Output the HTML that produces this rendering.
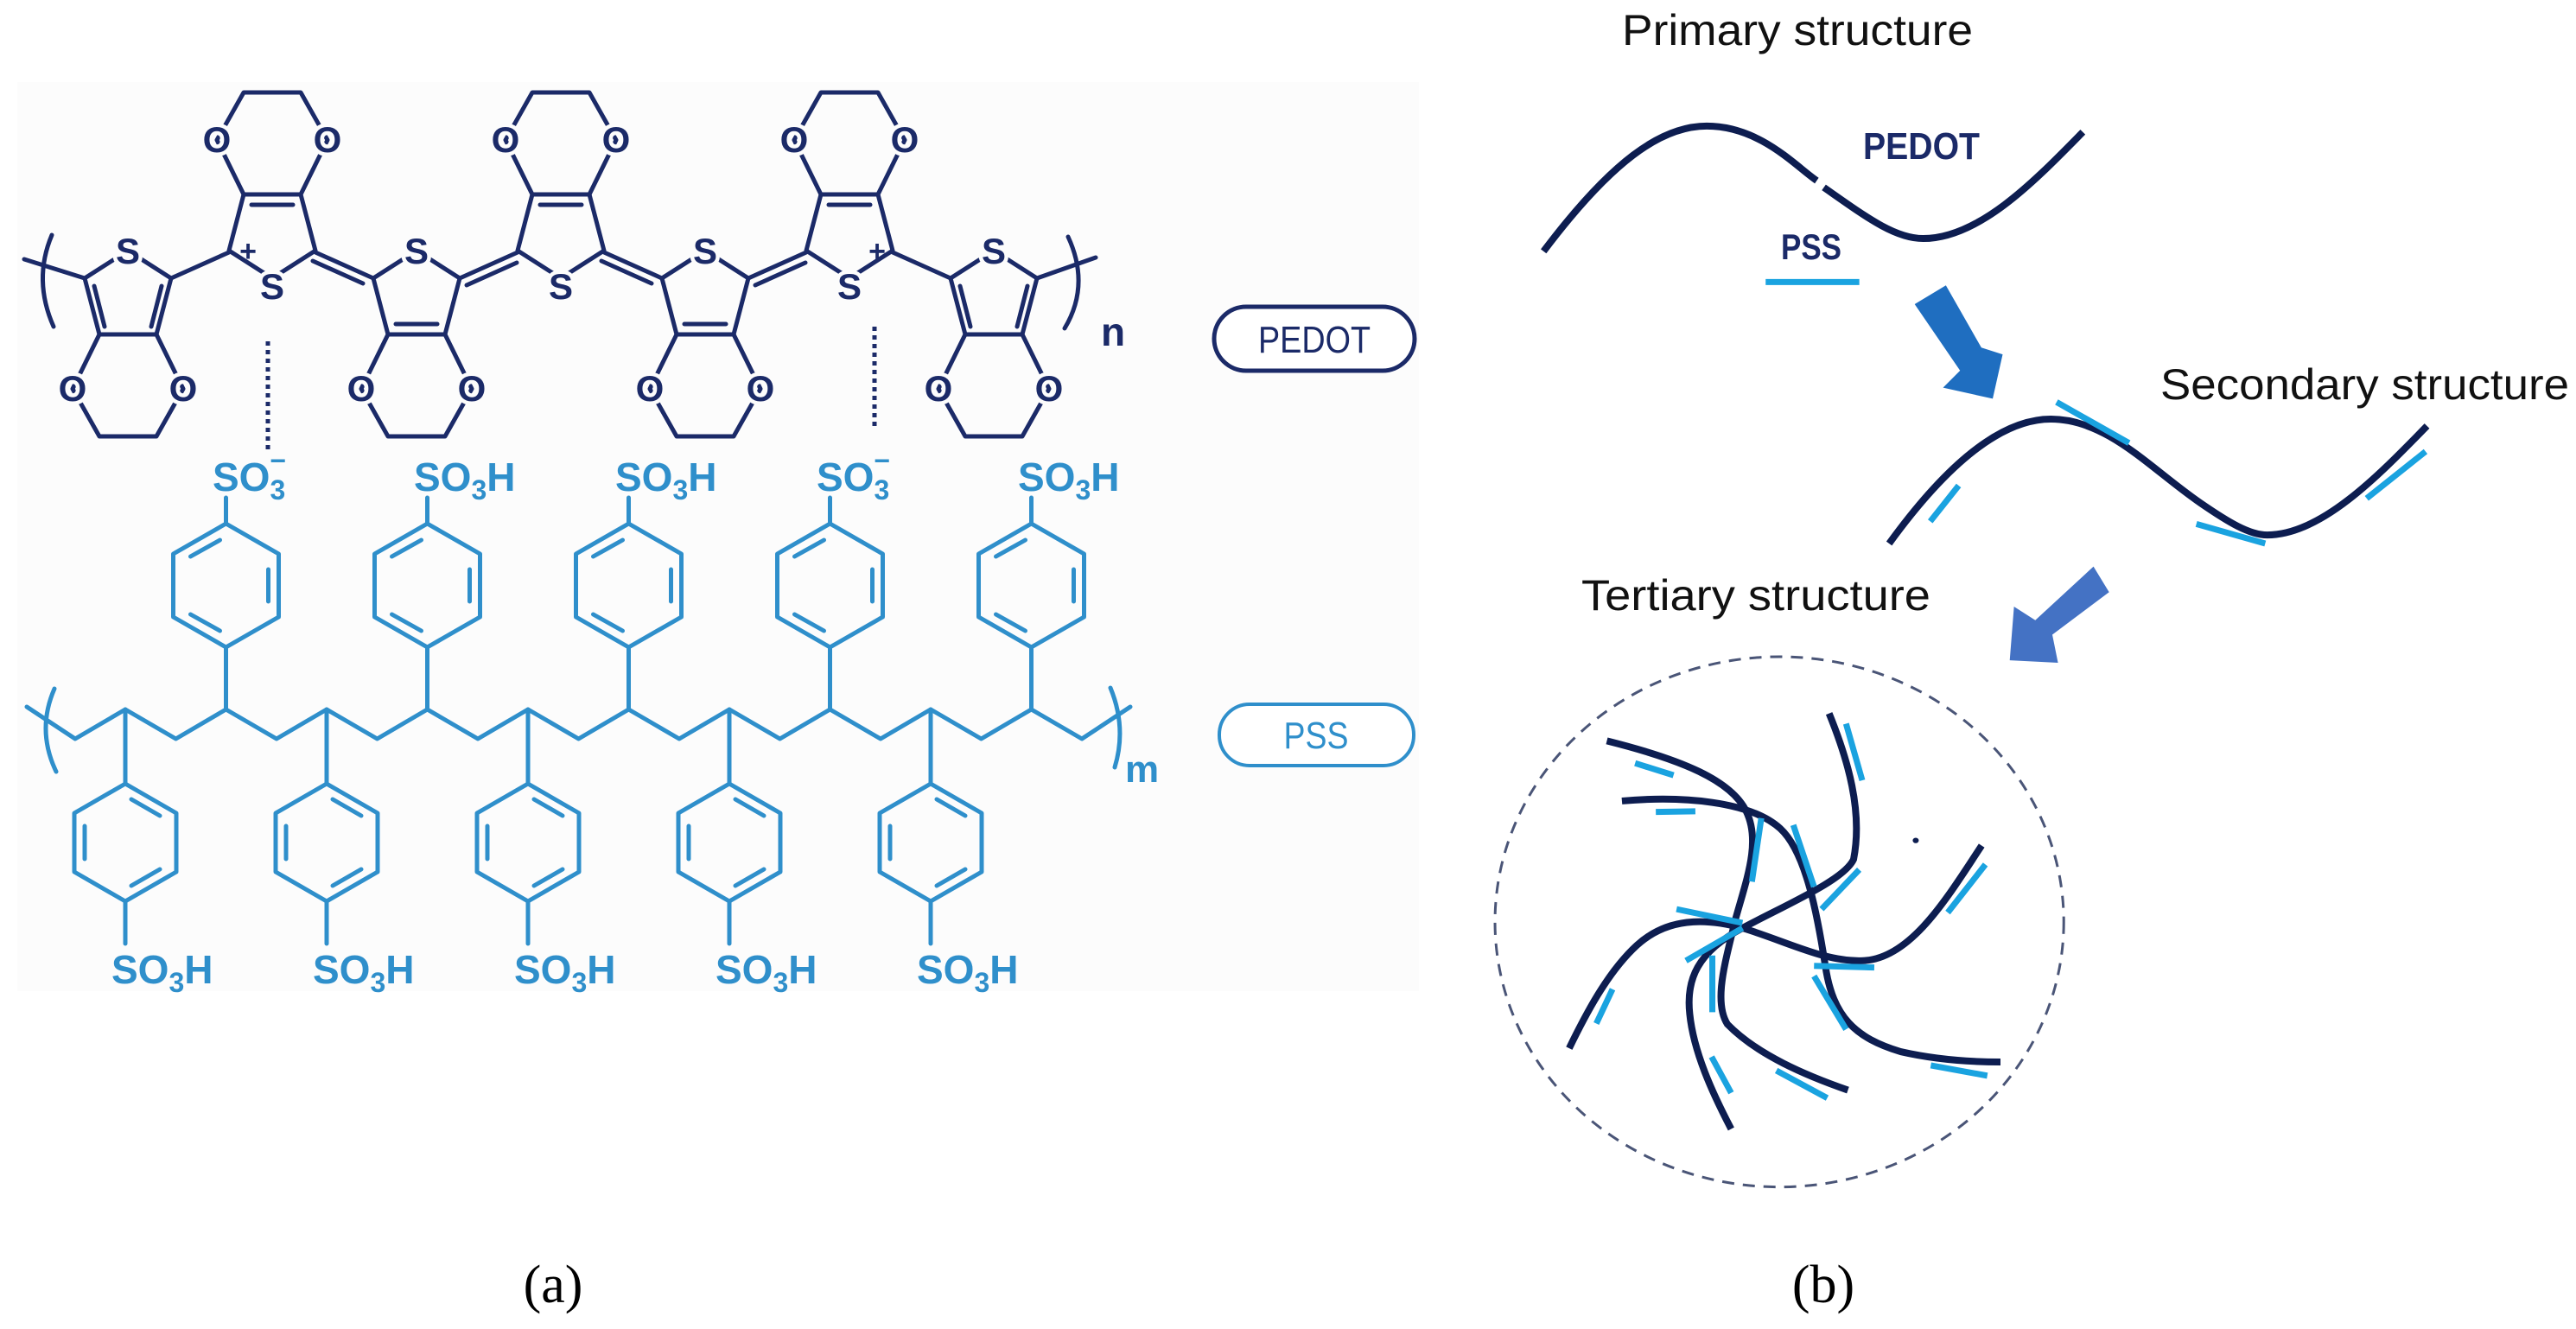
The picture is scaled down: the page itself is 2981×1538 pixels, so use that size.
<!DOCTYPE html>
<html><head><meta charset="utf-8"><style>
html,body{margin:0;padding:0;background:#fff}
svg{display:block}
</style></head><body>
<svg width="2981" height="1538" viewBox="0 0 2981 1538" xmlns="http://www.w3.org/2000/svg">
<rect width="2981" height="1538" fill="#fff"/>
<rect x="20" y="95" width="1622" height="1052" fill="#fcfcfc"/>
<defs>
 <g id="upring" fill="none" stroke="#1b2a68" stroke-width="5" stroke-linejoin="round" stroke-linecap="round">
  <path d="M0,290 L-50,322 L-33,387 L33,387 L50,322 Z"/>
  <path d="M-33,387 L-64,450 L-33,505 L33,505 L64,450 L33,387"/>
 </g>
 <g id="arom" stroke="#1b2a68" stroke-width="5" stroke-linecap="round">
  <path d="M-39,331 L-27,378 M39,331 L27,378"/>
 </g>
 <g id="quin" stroke="#1b2a68" stroke-width="5" stroke-linecap="round">
  <path d="M-24,375 L24,375"/>
 </g>
 <g id="bzb" fill="none" stroke="#2f8fcb" stroke-width="5" stroke-linejoin="round" stroke-linecap="round">
  <path d="M0,821 L0,907 M0,1043 L0,1092"/>
  <path d="M0,907 L59,941 L59,1009 L0,1043 L-59,1009 L-59,941 Z"/>
  <path d="M7,925 L40,944 M-47,956 L-47,994 M40,1006 L7,1025"/>
 </g>
 <g id="bzt" fill="none" stroke="#2f8fcb" stroke-width="5" stroke-linejoin="round" stroke-linecap="round">
  <path d="M0,821 L0,749 M0,606 L0,576"/>
  <path d="M0,606 L61,641 L61,714 L0,749 L-61,714 L-61,641 Z"/>
  <path d="M-41,711 L-7,730 M49,659 L49,696 M-41,644 L-7,625"/>
 </g>
</defs>

<!-- PEDOT rings -->
<g>
 <use href="#upring" x="148"/><use href="#arom" x="148"/>
 <g transform="translate(315,612) scale(1,-1)"><use href="#upring"/><use href="#quin"/></g>
 <use href="#upring" x="482"/><use href="#quin" x="482"/>
 <g transform="translate(649,612) scale(1,-1)"><use href="#upring"/><use href="#quin"/></g>
 <use href="#upring" x="816"/><use href="#quin" x="816"/>
 <g transform="translate(983,612) scale(1,-1)"><use href="#upring"/><use href="#quin"/></g>
 <use href="#upring" x="1150"/><use href="#arom" x="1150"/>
</g>
<g fill="none" stroke="#1b2a68" stroke-width="5" stroke-linecap="round">
 <path d="M28,300 L98,322 M198,322 L265,292"/>
 <path d="M365,292 L432,322 M362,302 L420,328"/>
 <path d="M532,322 L599,292 M540,330 L598,304"/>
 <path d="M699,292 L766,322 M696,302 L754,328"/>
 <path d="M866,322 L933,292 M874,330 L932,304"/>
 <path d="M1033,292 L1100,322 M1200,322 L1268,298"/>
 <path d="M60,272 Q38,324 62,378"/>
 <path d="M1236,274 Q1262,330 1232,380"/>
 <path d="M310,395 L310,522 M1012,378 L1012,498" stroke-dasharray="5 5" stroke-linecap="butt"/>
</g>
<g font-family="Liberation Sans, sans-serif" font-weight="bold" font-size="42" fill="#1b2a68" text-anchor="middle" stroke="#fcfcfc" stroke-width="9" paint-order="stroke">
 <text x="148" y="305">S</text><text x="315" y="346">S</text><text x="482" y="305">S</text>
 <text x="649" y="346">S</text><text x="816" y="305">S</text><text x="983" y="346">S</text><text x="1150" y="305">S</text>
 <text x="84" y="464">O</text><text x="212" y="464">O</text>
 <text x="251" y="176">O</text><text x="379" y="176">O</text>
 <text x="418" y="464">O</text><text x="546" y="464">O</text>
 <text x="585" y="176">O</text><text x="713" y="176">O</text>
 <text x="752" y="464">O</text><text x="880" y="464">O</text>
 <text x="919" y="176">O</text><text x="1047" y="176">O</text>
 <text x="1086" y="464">O</text><text x="1214" y="464">O</text>
 <text x="287" y="302" font-size="34" stroke="none">+</text>
 <text x="1015" y="302" font-size="34" stroke="none">+</text>
 <text x="1288" y="400" font-size="46" stroke="none">n</text>
</g>

<!-- PSS -->
<g fill="none" stroke="#2f8fcb" stroke-width="5" stroke-linejoin="round" stroke-linecap="round">
 <path d="M31,818 L87,855 L145,821 L203.5,855 L261.5,821 L320,855 L378,821 L436.5,855 L494.5,821 L553,855 L611,821 L669.5,855 L727.5,821 L786,855 L844,821 L902.5,855 L960.5,821 L1019,855 L1077,821 L1135.5,855 L1193.5,821 L1252,855 L1308,818"/>
 <path d="M63,797 Q42,845 65,893"/>
 <path d="M1285,796 Q1304,842 1290,888"/>
</g>
<use href="#bzb" x="145"/><use href="#bzb" x="378"/><use href="#bzb" x="611"/><use href="#bzb" x="844"/><use href="#bzb" x="1077"/>
<use href="#bzt" x="261.5"/><use href="#bzt" x="494.5"/><use href="#bzt" x="727.5"/><use href="#bzt" x="960.5"/><use href="#bzt" x="1193.5"/>
<g font-family="Liberation Sans, sans-serif" font-weight="bold" font-size="46" fill="#2f8fcb">
 <text x="129" y="1138">SO<tspan font-size="32" dy="10">3</tspan><tspan dy="-10">H</tspan></text>
 <text x="362" y="1138">SO<tspan font-size="32" dy="10">3</tspan><tspan dy="-10">H</tspan></text>
 <text x="595" y="1138">SO<tspan font-size="32" dy="10">3</tspan><tspan dy="-10">H</tspan></text>
 <text x="828" y="1138">SO<tspan font-size="32" dy="10">3</tspan><tspan dy="-10">H</tspan></text>
 <text x="1061" y="1138">SO<tspan font-size="32" dy="10">3</tspan><tspan dy="-10">H</tspan></text>
 <text x="246" y="568">SO<tspan font-size="32" dy="10">3</tspan><tspan font-size="32" dx="-18" dy="-34">−</tspan></text>
 <text x="479" y="568">SO<tspan font-size="32" dy="10">3</tspan><tspan dy="-10">H</tspan></text>
 <text x="712" y="568">SO<tspan font-size="32" dy="10">3</tspan><tspan dy="-10">H</tspan></text>
 <text x="945" y="568">SO<tspan font-size="32" dy="10">3</tspan><tspan font-size="32" dx="-18" dy="-34">−</tspan></text>
 <text x="1178" y="568">SO<tspan font-size="32" dy="10">3</tspan><tspan dy="-10">H</tspan></text>
 <text x="1302" y="905" font-size="44">m</text>
</g>

<!-- legend boxes -->
<rect x="1405" y="355" width="232" height="74" rx="37" fill="#fff" stroke="#1b2a68" stroke-width="5"/>
<text x="1521" y="408" text-anchor="middle" font-family="Liberation Sans, sans-serif" font-size="44" fill="#1b2a68" textLength="130" lengthAdjust="spacingAndGlyphs">PEDOT</text>
<rect x="1411" y="815" width="225" height="71" rx="35" fill="#fff" stroke="#2f8fcb" stroke-width="4"/>
<text x="1523" y="866" text-anchor="middle" font-family="Liberation Sans, sans-serif" font-size="44" fill="#2f8fcb" textLength="75" lengthAdjust="spacingAndGlyphs">PSS</text>

<!-- right panel (primary/secondary) -->
<svg x="1700" y="0" width="1281" height="1538" viewBox="0 0 1560 1560" preserveAspectRatio="none" overflow="visible">
 <g fill="none" stroke-linecap="butt">
  <path d="M105,295 C200,190 270,148 335,148 C410,148 460,195 490,212 M500,220 C560,255 600,280 640,280 C720,280 800,210 865,155" stroke="#0d1d50" stroke-width="8" vector-effect="non-scaling-stroke"/>
  <path d="M418,331 L550,331" stroke="#1aa3e0" stroke-width="7" vector-effect="non-scaling-stroke"/>
  <path d="M592,638 C660,560 740,492 820,492 C900,492 960,550 1030,590 C1070,613 1100,628 1125,628 C1200,628 1280,560 1350,500" stroke="#0d1d50" stroke-width="8" vector-effect="non-scaling-stroke"/>
  <path d="M828,472 L930,520 M650,612 L690,570 M1025,615 L1122,638 M1265,585 L1348,530" stroke="#1aa3e0" stroke-width="7" vector-effect="non-scaling-stroke"/>
 </g>
 <polygon points="628,357 672,335 722,408 752,416 738,468 668,455 692,435" fill="#1f6ec0"/>
 <polygon points="880,665 902,695 822,745 830,778 762,775 768,712 798,728" fill="#4472c4"/>
</svg>

<!-- tertiary -->
<svg x="1720" y="760" width="680" height="620" viewBox="0 0 1560 1560" preserveAspectRatio="none" overflow="visible">
 <ellipse cx="778" cy="772" rx="755" ry="772" fill="none" stroke="#4a5577" stroke-width="3" stroke-dasharray="14 10" vector-effect="non-scaling-stroke"/>
 <g fill="none" stroke="#0d1d50" stroke-width="8" stroke-linecap="butt">
  <path vector-effect="non-scaling-stroke" d="M320,245 C520,300 650,360 690,450 C730,540 690,650 660,770 C640,870 600,1000 640,1070 C720,1160 850,1220 960,1262"/>
  <path vector-effect="non-scaling-stroke" d="M360,420 C520,405 700,420 780,500 C850,570 880,760 900,900 C920,1050 980,1110 1100,1150 C1200,1175 1300,1180 1365,1180"/>
  <path vector-effect="non-scaling-stroke" d="M910,165 C960,300 1000,450 975,590 C950,650 800,720 680,790 C560,860 530,940 540,1040 C550,1150 600,1270 650,1375"/>
  <path vector-effect="non-scaling-stroke" d="M1315,550 C1230,690 1130,880 1000,885 C900,890 800,830 680,790 C580,760 480,760 400,840 C320,920 260,1050 220,1140"/>
 </g>
 <g fill="none" stroke="#1aa3e0" stroke-width="7">
  <path vector-effect="non-scaling-stroke" d="M395,310 L497,345 M450,452 L555,450 M730,470 L705,655 M815,490 L870,670 M990,620 L890,735 M955,195 L998,360 M1325,605 L1225,745 M505,735 L680,775 M530,885 L680,790 M600,870 L600,1035 M870,900 L1030,905 M870,930 L955,1085 M1180,1190 L1330,1220 M770,1205 L905,1285 M598,1165 L650,1270 M335,968 L292,1068"/>
 </g>
 <ellipse cx="1140" cy="535" rx="8" ry="8" fill="#0d1d50"/>
</svg>

<g font-family="Liberation Sans, sans-serif" fill="#111">
 <text x="1877" y="52" font-size="50" textLength="406" lengthAdjust="spacingAndGlyphs">Primary structure</text>
 <text x="2500" y="462" font-size="50" textLength="473" lengthAdjust="spacingAndGlyphs">Secondary structure</text>
 <text x="1830" y="706" font-size="50" textLength="404" lengthAdjust="spacingAndGlyphs">Tertiary structure</text>
</g>
<g font-family="Liberation Sans, sans-serif" font-weight="bold" fill="#1b2a68">
 <text x="2156" y="184" font-size="44" textLength="135" lengthAdjust="spacingAndGlyphs">PEDOT</text>
 <text x="2061" y="300" font-size="42" textLength="70" lengthAdjust="spacingAndGlyphs">PSS</text>
</g>
<g font-family="Liberation Serif, serif" font-size="62" fill="#000" text-anchor="middle">
 <text x="640" y="1507">(a)</text>
 <text x="2110" y="1507">(b)</text>
</g>
</svg>
</body></html>
